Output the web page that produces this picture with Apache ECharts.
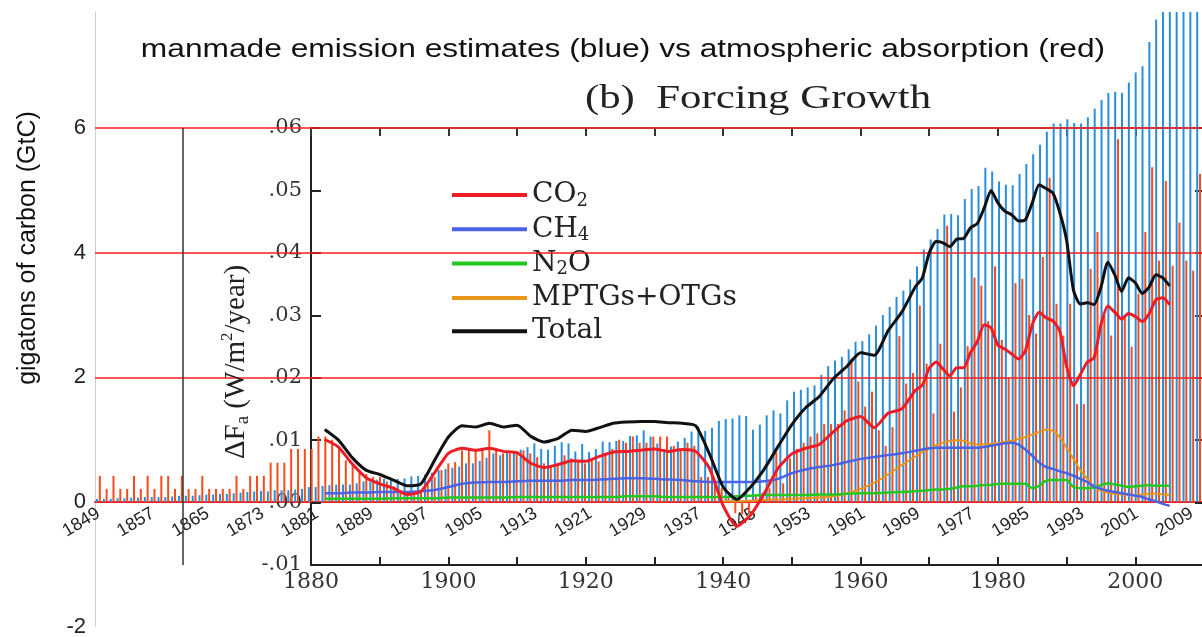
<!DOCTYPE html>
<html>
<head>
<meta charset="utf-8">
<script src="https://cdn.jsdelivr.net/npm/echarts@6/dist/echarts.min.js"></script>
<style>
html,body{margin:0;padding:0;background:#fff;}
#chart{width:1202px;height:637px;}
</style>
</head>
<body>
<div id="chart"></div>
<script>
// ---------- Outer chart: annual carbon (GtC), one value per year from FIRST_YEAR ----------
const FIRST_YEAR = 1849;
const emissions = [
 0.05,0.05,0.05,0.06,0.06,0.07,0.07,0.08,0.08,0.08,
 0.08,0.09,0.10,0.10,0.10,0.11,0.12,0.12,0.13,0.13,
 0.14,0.15,0.16,0.17,0.18,0.17,0.19,0.19,0.19,0.20,
 0.21,0.24,0.24,0.26,0.27,0.28,0.28,0.28,0.30,0.33,
 0.33,0.36,0.37,0.37,0.37,0.38,0.41,0.42,0.44,0.47,
 0.51,0.53,0.55,0.57,0.62,0.62,0.66,0.71,0.78,0.75,
 0.79,0.82,0.84,0.88,0.94,0.85,0.84,0.90,0.96,0.94,
 0.81,0.93,0.80,0.85,0.97,0.96,0.98,0.98,1.06,1.07,
 1.15,1.05,0.94,0.85,0.89,0.97,1.03,1.13,1.21,1.14,
 1.19,1.30,1.33,1.34,1.39,1.38,1.16,1.24,1.39,1.47,
 1.42,1.63,1.77,1.80,1.84,1.87,2.04,2.18,2.27,2.33,
 2.45,2.57,2.58,2.69,2.83,3.00,3.13,3.29,3.39,3.57,
 3.78,4.05,4.21,4.38,4.61,4.62,4.60,4.86,5.02,5.07,
 5.36,5.30,5.14,5.09,5.08,5.26,5.42,5.58,5.73,5.94,
 6.07,6.07,6.14,6.08,6.07,6.17,6.31,6.45,6.56,6.58,
 6.56,6.73,6.89,6.99,7.38,7.74,8.04,8.34,8.50,8.78,
 8.74,9.17
];
const absorption = [
 0.42,0.21,0.42,0.21,0.21,0.42,0.21,0.42,0.21,0.42,
 0.42,0.21,0.42,0.21,0.21,0.42,0.21,0.21,0.21,0.21,
 0.42,0.21,0.42,0.42,0.42,0.63,0.63,0.63,0.85,0.85,
 0.85,0.85,1.05,1.05,1.00,0.85,0.67,0.60,0.51,0.45,
 0.40,0.40,0.33,0.25,0.19,0.17,0.11,0.19,0.28,0.40,
 0.51,0.62,0.64,0.83,0.86,0.83,0.86,1.15,0.83,0.78,
 0.78,0.80,0.83,0.78,0.72,0.62,0.59,0.62,0.75,0.70,
 0.65,0.62,0.70,0.65,0.75,0.85,1.00,0.95,1.05,0.95,
 0.95,1.05,1.05,1.05,0.90,0.85,0.95,0.90,0.40,0.40,
 0.30,0.22,0.10,-0.18,-0.20,-0.18,0.10,0.15,0.22,0.80,
 0.30,0.70,0.85,0.95,1.05,1.10,1.25,1.25,1.25,1.47,
 2.30,1.93,1.53,1.77,1.15,0.90,1.20,2.66,1.90,2.07,
 3.15,2.22,1.42,2.54,4.43,1.45,1.84,2.50,3.60,3.47,
 2.90,3.78,2.60,2.00,3.51,3.58,3.00,2.70,3.93,5.20,
 3.18,2.67,3.18,1.57,1.57,3.74,4.33,3.00,2.67,5.82,
 3.00,2.49,3.34,4.33,5.37,3.87,5.15,3.79,4.48,3.87,
 3.71,5.26
];
const gtcLevels = [2, 4, 6];

// ---------- Inner chart: (b) Forcing Growth, W/m2/year ----------
const lineYears = [
 1882,1884,1886,1888,1890,1892,1894,1896,1898,1900,
 1902,1904,1906,1908,1910,1912,1914,1916,1918,1920,
 1922,1924,1926,1928,1930,1932,1934,1936,1938,1940,
 1942,1944,1946,1948,1950,1952,1954,1956,1958,1960,
 1962,1964,1966,
 1968,1969,1970,1971,1972,1973,1974,1975,1976,1977,
 1978,1979,1980,1981,1982,1983,1984,1985,1986,1987,
 1988,1989,1990,1991,1992,1993,1994,1995,1996,1997,
 1998,1999,2000,2001,2002,2003,2004,2005
];
const co2 = [
 .0101,.0089,.0062,.0040,.0030,.0023,.0013,.0018,.0048,.0079,
 .0087,.0084,.0087,.0082,.0080,.0063,.0056,.0061,.0067,.0066,
 .0074,.0081,.0082,.0084,.0086,.0082,.0085,.0082,.0055,-.0005,
 -.0038,-.0020,.0015,.0055,.0078,.0087,.0093,.0113,.0131,.0138,
 .0120,.0143,.0150,
 .0180,.0188,.0215,.0225,.0214,.0203,.0216,.0216,.0240,.0258,
 .0285,.0280,.0252,.0246,.0238,.0230,.0243,.0285,.0305,.0296,
 .0291,.0275,.0218,.0187,.0205,.0225,.0232,.0285,.0315,.0305,
 .0294,.0303,.0298,.0290,.0302,.0325,.0328,.0317
];
const ch4 = [
 .0015,.0015,.0016,.0016,.0017,.0017,.0017,.0018,.0020,.0025,
 .0030,.0032,.0033,.0033,.0034,.0035,.0035,.0035,.0036,.0036,
 .0037,.0038,.0039,.0039,.0038,.0037,.0036,.0034,.0033,.0033,
 .0033,.0033,.0034,.0038,.0047,.0053,.0057,.0060,.0065,.0070,
 .0073,.0076,.0079,
 .0083,.0085,.0087,.0088,.0088,.0088,.0088,.0088,.0088,.0088,
 .0089,.0091,.0093,.0095,.0096,.0093,.0085,.0075,.0064,.0057,
 .0054,.0050,.0047,.0043,.0038,.0033,.0026,.0022,.0019,.0017,
 .0015,.0013,.0011,.0009,.0005,.0002,-.0002,-.0005
];
const n2o = [
 .0006,.0006,.0006,.0006,.0006,.0007,.0007,.0007,.0007,.0008,
 .0008,.0008,.0008,.0008,.0009,.0009,.0009,.0009,.0009,.0009,
 .0009,.0009,.0010,.0010,.0010,.0009,.0009,.0009,.0009,.0009,
 .0010,.0011,.0012,.0012,.0012,.0012,.0013,.0013,.0014,.0015,
 .0015,.0016,.0017,
 .0018,.0019,.0020,.0021,.0021,.0022,.0024,.0026,.0026,.0027,
 .0028,.0028,.0030,.0030,.0030,.0030,.0030,.0023,.0027,.0035,
 .0036,.0036,.0036,.0025,.0023,.0023,.0024,.0028,.0031,.0029,
 .0027,.0025,.0026,.0027,.0028,.0027,.0027,.0027
];
const mptgs = [
 null,null,null,null,null,null,null,null,null,null,
 null,null,null,null,null,null,null,null,null,null,
 null,null,null,null,null,null,null,null,null,.0002,
 .0002,.0003,.0004,.0005,.0006,.0007,.0008,.0010,.0015,.0022,
 .0032,.0045,.0060,
 .0074,.0081,.0087,.0092,.0096,.0099,.0100,.0099,.0095,.0093,
 .0093,.0094,.0095,.0097,.0099,.0102,.0105,.0109,.0113,.0117,
 .0115,.0105,.0088,.0070,.0052,.0038,.0026,.0019,.0016,.0014,
 .0013,.0012,.0012,.0013,.0014,.0014,.0013,.0012
];
const total = [
 .0117,.0100,.0072,.0052,.0045,.0036,.0027,.0030,.0068,.0105,
 .0123,.0121,.0127,.0121,.0124,.0106,.0097,.0103,.0116,.0114,
 .0120,.0127,.0129,.0130,.0130,.0128,.0127,.0123,.0078,.0025,
 .0005,.0025,.0054,.0090,.0125,.0152,.0170,.0198,.0218,.0240,
 .0236,.0275,.0305,
 .0346,.0360,.0400,.0418,.0416,.0410,.0422,.0423,.0440,.0447,
 .0472,.0500,.0480,.0467,.0461,.0451,.0453,.0480,.0509,.0503,
 .0496,.0465,.0420,.0340,.0318,.0320,.0317,.0345,.0385,.0365,
 .0338,.0360,.0352,.0335,.0345,.0365,.0360,.0347
];

const years = [];
for (let i = 0; i < emissions.length; i++) years.push(String(FIRST_YEAR + i));
const pairs = vals => lineYears.map((y, i) => [y, vals[i]]);

// outer grid geometry (layout only)
const OUT_TOP = 12, OUT_BOTTOM = 10.3, OUT_MIN = -2, OUT_MAX = 7.86;
const outHeight = 637 - OUT_TOP - OUT_BOTTOM;
const zeroOffset = -(0 - OUT_MIN) / (OUT_MAX - OUT_MIN) * outHeight;

const SERIF = 'DejaVu Serif';
const chart = echarts.init(document.getElementById('chart'), null, {renderer: 'canvas'});

const legendText = {
  'CO2': '{t|CO}{s|2}',
  'CH4': '{t|CH}{s|4}',
  'N2O': '{t|N}{s|2}{t|O}',
  'MPTGs+OTGs': '{t|MPTGs+OTGs}',
  'Total': '{t|Total}'
};

function lineSeries(name, vals, color, width, z) {
  return {
    name: name, type: 'line', xAxisIndex: 1, yAxisIndex: 1,
    data: pairs(vals), showSymbol: false, symbol: 'none', smooth: 0.2,
    connectNulls: false, z: z,
    lineStyle: {color: color, width: width}, itemStyle: {color: color}
  };
}

chart.setOption({
  animation: false,
  backgroundColor: '#ffffff',
  grid: [
    {left: 95, right: 0, top: OUT_TOP, bottom: OUT_BOTTOM, containLabel: false, outerBoundsMode: 'none'},
    {left: 311, right: -2, top: 128, bottom: 72, containLabel: false, outerBoundsMode: 'none'}
  ],
  legend: {
    data: ['CO2', 'CH4', 'N2O', 'MPTGs+OTGs', 'Total'],
    orient: 'vertical', left: 447, top: 176,
    icon: 'rect', itemWidth: 75, itemHeight: 4, itemGap: 5.3,
    selectedMode: false,
    formatter: n => legendText[n],
    textStyle: {
      fontFamily: SERIF, fontSize: 28, color: '#222',
      rich: {
        t: {fontFamily: SERIF, fontSize: 28, color: '#222', lineHeight: 30},
        s: {fontFamily: SERIF, fontSize: 18, color: '#222', lineHeight: 18, verticalAlign: 'bottom'}
      }
    }
  },
  xAxis: [
    {
      type: 'category', gridIndex: 0, data: years, position: 'bottom', offset: zeroOffset,
      axisLine: {show: true, onZero: false, lineStyle: {color: '#ff1f1f', width: 2}},
      axisTick: {show: false},
      axisLabel: {interval: 7, rotate: 31, margin: 10, fontSize: 18,
                  fontFamily: 'Liberation Sans', color: '#222'},
      splitLine: {show: false}
    },
    {
      type: 'value', gridIndex: 1, min: 1880, max: 2010, interval: 10,
      position: 'bottom',
      axisLine: {show: true, onZero: false, lineStyle: {color: '#222', width: 2}},
      axisTick: {show: true, inside: true, length: 8, lineStyle: {color: '#222', width: 2}},
      axisLabel: {formatter: v => (v % 20 === 0 ? String(v) : ''), margin: 6,
                  fontSize: 22, fontFamily: SERIF, color: '#333', showMaxLabel: false},
      splitLine: {show: false}
    },
    {
      type: 'value', gridIndex: 1, min: 1880, max: 2010, interval: 10,
      position: 'top',
      axisLine: {show: true, onZero: false, lineStyle: {color: '#333', width: 1.5}},
      axisTick: {show: true, inside: true, length: 8, lineStyle: {color: '#333', width: 2}},
      axisLabel: {show: false},
      splitLine: {show: false}
    }
  ],
  yAxis: [
    {
      type: 'value', gridIndex: 0, min: OUT_MIN, max: OUT_MAX, interval: 2,
      axisLine: {show: true, onZero: false, lineStyle: {color: '#c8c8c8', width: 1, type: 'dotted'}},
      axisTick: {show: false},
      axisLabel: {formatter: v => (Math.abs(v - Math.round(v)) < 1e-9 ? String(Math.round(v)) : ''),
                  margin: 9, fontSize: 22, fontFamily: 'Liberation Sans', color: '#222'},
      splitLine: {show: false}
    },
    {
      type: 'value', gridIndex: 1, min: -0.01, max: 0.06, interval: 0.01,
      position: 'left',
      axisLine: {show: true, onZero: false, lineStyle: {color: '#222', width: 2}},
      axisTick: {show: true, inside: true, length: 10, lineStyle: {color: '#222', width: 2}},
      axisLabel: {formatter: v => v.toFixed(2).replace(/^(-?)0\./, '$1.'),
                  margin: 9, fontSize: 21, fontFamily: SERIF, color: '#333'},
      splitLine: {show: false}
    },
    {
      type: 'value', gridIndex: 1, min: -0.01, max: 0.06, interval: 0.01,
      position: 'right',
      axisLine: {show: true, onZero: false, lineStyle: {color: '#222', width: 2}},
      axisTick: {show: true, inside: true, length: 9, lineStyle: {color: '#222', width: 2}},
      axisLabel: {show: false},
      splitLine: {show: false}
    }
  ],
  series: [
    {
      name: 'emissions', type: 'bar', xAxisIndex: 0, yAxisIndex: 0,
      data: emissions, barWidth: 2, barGap: '40%',
      itemStyle: {color: '#2a8fda'}, z: 1
    },
    {
      name: 'absorption', type: 'bar', xAxisIndex: 0, yAxisIndex: 0,
      data: absorption, barWidth: 2,
      itemStyle: {color: '#f84c1c'}, z: 1,
      markLine: {
        silent: true, symbol: ['none', 'none'], label: {show: false},
        lineStyle: {color: '#ff1f1f', width: 1.6, type: 'solid'},
        data: gtcLevels.map(v => ({yAxis: v}))
      }
    },
    lineSeries('MPTGs+OTGs', mptgs, '#e8951a', 2, 5),
    lineSeries('N2O', n2o, '#22c81e', 2.5, 6),
    lineSeries('CH4', ch4, '#4a62e4', 2.5, 7),
    lineSeries('CO2', co2, '#ee1c25', 3, 8),
    lineSeries('Total', total, '#111111', 3, 9)
  ],
  graphic: [
    {
      type: 'text', x: 623, y: 50, scaleX: 1.22, z: 10,
      style: {text: 'manmade emission estimates (blue) vs atmospheric absorption (red)',
              font: 'normal 26px "Liberation Sans"', fill: '#111',
              align: 'center', verticalAlign: 'middle', textAlign: 'center', textVerticalAlign: 'middle'}
    },
    {
      type: 'text', x: 758, y: 99, scaleX: 1.26, z: 10,
      style: {text: '(b)  Forcing Growth',
              font: 'normal 34px "Liberation Serif"', fill: '#222',
              align: 'center', verticalAlign: 'middle', textAlign: 'center', textVerticalAlign: 'middle'}
    },
    {
      type: 'text', x: 28, y: 248, rotation: Math.PI / 2, z: 10,
      style: {text: 'gigatons of carbon (GtC)',
              font: 'normal 25px "Liberation Sans"', fill: '#111',
              align: 'center', verticalAlign: 'middle', textAlign: 'center', textVerticalAlign: 'middle'}
    },
    {
      type: 'text', x: 236, y: 362, rotation: Math.PI / 2, z: 10,
      style: {text: '{a|ΔF}{s|a}{a| (W/m}{p|2}{a|/year)}',
              font: 'normal 29px "Liberation Serif"', fill: '#222',
              align: 'center', verticalAlign: 'middle', textAlign: 'center', textVerticalAlign: 'middle',
              rich: {
                a: {fontFamily: 'Liberation Serif', fontSize: 29, fill: '#222', color: '#222', lineHeight: 34},
                s: {fontFamily: 'Liberation Serif', fontSize: 19, fill: '#222', color: '#222', lineHeight: 19, verticalAlign: 'bottom'},
                p: {fontFamily: 'Liberation Serif', fontSize: 17, fill: '#222', color: '#222', lineHeight: 17, verticalAlign: 'top'}
              }}
    },
    {
      type: 'line', z: 10,
      shape: {x1: 183, y1: 128, x2: 183, y2: 565},
      style: {stroke: '#333', lineWidth: 1.5}
    }
  ]
});
</script>
</body>
</html>
